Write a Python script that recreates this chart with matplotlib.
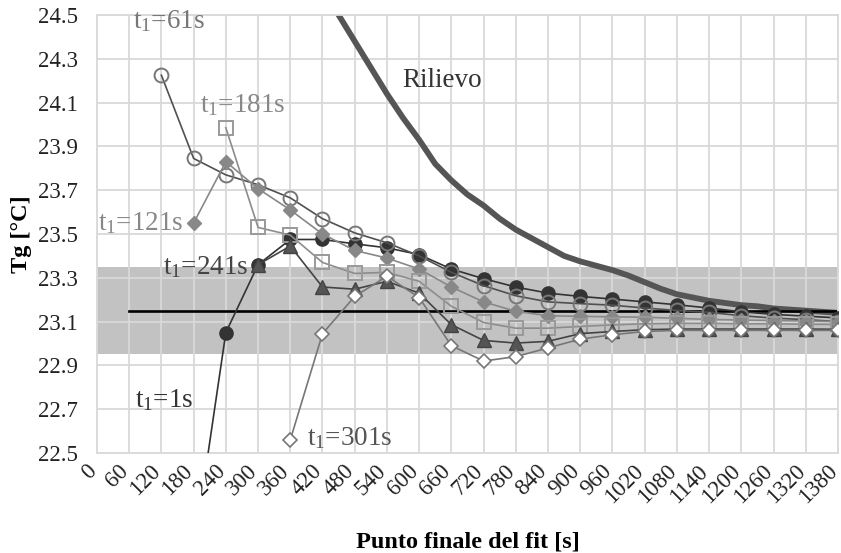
import numpy as np
import matplotlib
matplotlib.use("Agg")
import matplotlib.pyplot as plt
from matplotlib.transforms import ScaledTranslation

plt.rcParams['font.family'] = ['Liberation Serif', 'DejaVu Serif']
plt.rcParams['mathtext.fontset'] = 'custom'
plt.rcParams['mathtext.rm'] = 'Liberation Serif'

# fit end point [s] for each series
x_1s = [180, 240, 300, 360, 420, 480, 540, 600, 660, 720, 780, 840, 900, 960,
        1020, 1080, 1140, 1200, 1260, 1320, 1380]
y_1s = [22.05, 23.05, 23.36, 23.475, 23.475, 23.455, 23.437, 23.406, 23.34, 23.296,
        23.258, 23.23, 23.215, 23.203, 23.19, 23.177, 23.162, 23.145, 23.133, 23.125, 23.117]

x_61s = [120, 180, 240, 300, 360, 420, 480, 540, 600, 660, 720, 780, 840, 900, 960,
         1020, 1080, 1140, 1200, 1260, 1320, 1380]
y_61s = [24.225, 23.845, 23.77, 23.725, 23.665, 23.57, 23.505, 23.46, 23.40, 23.325,
         23.264, 23.218, 23.19, 23.182, 23.175, 23.162, 23.151, 23.142, 23.127, 23.116,
         23.109, 23.10]

x_121s = x_1s
y_121s = [23.55, 23.83, 23.707, 23.61, 23.50, 23.425, 23.39, 23.34, 23.258, 23.19,
          23.147, 23.127, 23.124, 23.122, 23.12, 23.115, 23.11, 23.107, 23.105, 23.103, 23.10]

x_181s = x_1s[1:]
y_181s = [23.985, 23.53, 23.495, 23.37, 23.32, 23.325, 23.284, 23.17, 23.096, 23.07,
          23.07, 23.078, 23.085, 23.09, 23.092, 23.092, 23.09, 23.09, 23.088, 23.087]

x_241s = x_1s[2:]
y_241s = [23.36, 23.445, 23.258, 23.248, 23.284, 23.23, 23.086, 23.014, 23.002, 23.01,
          23.045, 23.055, 23.063, 23.066, 23.066, 23.066, 23.066, 23.066, 23.065]

x_301s = x_1s[3:]
y_301s = [22.56, 23.045, 23.215, 23.307, 23.21, 22.99, 22.92, 22.94, 22.98, 23.02,
          23.04, 23.055, 23.06, 23.06, 23.06, 23.06, 23.06, 23.06]

# measured temperature (rilievo)
x_ril = [450, 480, 510, 540, 570, 600, 630, 660, 690, 720, 750, 780, 810, 840, 870,
         900, 930, 960, 990, 1020, 1050, 1080, 1110, 1140, 1170, 1200, 1230, 1260,
         1290, 1320, 1350, 1380]
y_ril = [24.50, 24.38, 24.26, 24.14, 24.03, 23.93, 23.82, 23.745, 23.68, 23.63, 23.57,
         23.52, 23.48, 23.44, 23.40, 23.375, 23.355, 23.335, 23.31, 23.28, 23.25, 23.225,
         23.21, 23.195, 23.185, 23.175, 23.17, 23.16, 23.155, 23.15, 23.145, 23.14]

tg_ref = 23.15
tg_band = 0.2
xticks = list(range(0, 1381, 60))

fig = plt.figure(figsize=(8.41, 5.53), dpi=100)
ax = fig.add_axes([0.1153, 0.1808, 0.8811, 0.7921])

ax.axhspan(tg_ref - tg_band, tg_ref + tg_band, color='#c2c2c2', zorder=0.3, lw=0)
ax.plot([60, 1380], [tg_ref, tg_ref], color='black', lw=1.9, zorder=2)

ax.plot(x_ril, y_ril, color='#555555', lw=4.2, zorder=1.5, solid_capstyle='round')

ms = 9.5
ax.plot(x_1s, y_1s, color='#333333', lw=1.2, marker='o', ms=ms,
        mfc='#333333', mec='#333333', zorder=3)
ax.plot(x_61s, y_61s, color='#505050', lw=1.2, marker='o', ms=ms + 0.5,
        mfc='none', mec='#777777', mew=1.4, zorder=3)
ax.plot(x_121s, y_121s, color='#888888', lw=1.2, marker='D', ms=ms - 2,
        mfc='#888888', mec='#888888', zorder=3)
ax.plot(x_181s, y_181s, color='#8c8c8c', lw=1.2, marker='s', ms=ms,
        mfc='none', mec='#999999', mew=1.4, zorder=3)
ax.plot(x_241s, y_241s, color='#444444', lw=1.2, marker='^', ms=ms + 0.5,
        mfc='#555555', mec='#444444', zorder=3)
ax.plot(x_301s, y_301s, color='#777777', lw=1.2, marker='D', ms=ms - 2.5,
        mfc='white', mec='#777777', mew=1.2, zorder=3)

fs = 19.5
lab = dict(fontsize=fs, va='center', ha='left', zorder=5)
ax.text(67, 24.47, r'$\mathregular{t_1}$=61s', color='#777777', **lab)
ax.text(192, 24.09, r'$\mathregular{t_1}$=181s', color='#888888', **lab)
ax.text(2, 23.55, r'$\mathregular{t_1}$=121s', color='#888888', **lab)
ax.text(123, 23.35, r'$\mathregular{t_1}$=241s', color='#444444', **lab)
ax.text(71, 22.74, r'$\mathregular{t_1}$=1s', color='#333333', **lab)
ax.text(392, 22.57, r'$\mathregular{t_1}$=301s', color='#555555', **lab)
ax.text(569, 24.20, 'Rilievo', color='#333333', **lab)

ax.set_xlim(0, 1380)
ax.set_ylim(22.5, 24.5)
ax.set_xticks(xticks)
ax.set_xticklabels([str(v) for v in xticks], rotation=45, ha='right', va='center',
                   rotation_mode='anchor', fontsize=16.5)
ax.set_yticks(np.arange(22.5, 24.51, 0.2))
ax.set_yticklabels(['%.1f' % v for v in np.arange(22.5, 24.51, 0.2)], fontsize=16.5)
ax.tick_params(length=0, colors='#222222')
ax.tick_params(axis='y', pad=14)
ax.tick_params(axis='x', pad=11)
# nudge the slanted labels a little left so the last one stays inside
shift = ScaledTranslation(-4 / 100, 0, fig.dpi_scale_trans)
for t in ax.get_xticklabels():
    t.set_transform(t.get_transform() + shift)

ax.set_axisbelow(True)
ax.grid(True, color='#d9d9d9', lw=1.3)
for s in ax.spines.values():
    s.set_color('#d9d9d9')
    s.set_linewidth(1.3)

ax.set_xlabel('Punto finale del fit [s]', fontsize=17.5, fontweight='bold', labelpad=17)
ax.set_ylabel('Tg [°C]', fontsize=17.5, fontweight='bold', labelpad=4)

fig.savefig('out.png', dpi=100)
